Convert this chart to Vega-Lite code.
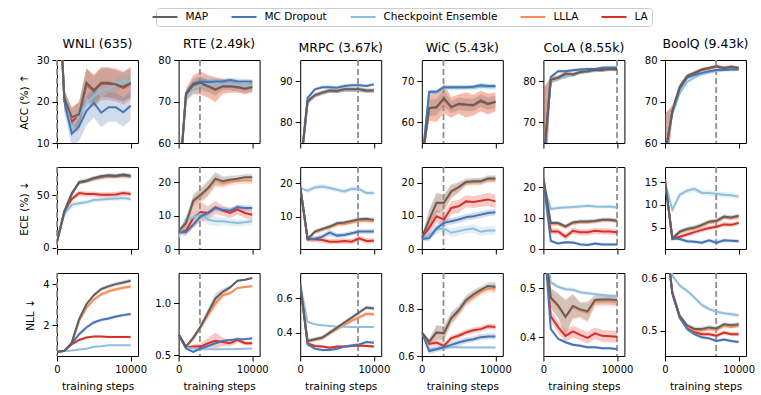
{
"$schema":"https://vega.github.io/schema/vega-lite/v6.json",
"padding":{"left":18,"top":7,"right":0,"bottom":3},
"bounds":"flush",
"columns":6,
"spacing":{"row":24,"column":40.6},
"config":{
"font":"DejaVu Sans",
"view":{"stroke":"black","strokeWidth":1},
"range":{"category":["#606060","#4575b4","#91bfdb","#fc8d59","#d73027"]},
"axis":{"grid":false,"domain":false,"tickColor":"black","tickSize":5,"tickWidth":1,"labelFontSize":10,"labelColor":"black","labelPadding":3,"labelFlush":false,"labelOverlap":false,"titleFontSize":10.5,"titleFontWeight":"normal","titleColor":"black","titlePadding":7},
"title":{"fontSize":12.5,"fontWeight":"normal","color":"black","offset":5},
"line":{"strokeWidth":2},
"errorband":{"band":{"fillOpacity":0.25,"opacity":1}}
},
"datasets":{
"r":[{"d":"W","x":0},{"d":"R","x":2900},{"d":"M","x":7850},{"d":"I","x":2950},{"d":"C","x":10000},{"d":"B","x":6950}],
"p":[
{"p":"WA","m":"e","x":0,"y":56,"e":0},{"p":"WA","m":"e","x":1000,"y":20.3,"e":2.5},{"p":"WA","m":"e","x":2000,"y":15.2,"e":3},{"p":"WA","m":"e","x":3000,"y":16.5,"e":3.5},{"p":"WA","m":"e","x":4000,"y":24.0,"e":4},{"p":"WA","m":"e","x":5000,"y":22.5,"e":4},{"p":"WA","m":"e","x":6000,"y":24.3,"e":4},{"p":"WA","m":"e","x":7000,"y":24.3,"e":4},{"p":"WA","m":"e","x":8000,"y":24.0,"e":4},{"p":"WA","m":"e","x":9000,"y":23.3,"e":4},{"p":"WA","m":"e","x":10000,"y":24.3,"e":4},
{"p":"WA","m":"d","x":0,"y":56,"e":0},{"p":"WA","m":"d","x":1000,"y":20.6,"e":2},{"p":"WA","m":"d","x":2000,"y":16.0,"e":2.5},{"p":"WA","m":"d","x":3000,"y":16.8,"e":3},{"p":"WA","m":"d","x":4000,"y":24.3,"e":3.5},{"p":"WA","m":"d","x":5000,"y":22.7,"e":3.5},{"p":"WA","m":"d","x":6000,"y":24.5,"e":3.5},{"p":"WA","m":"d","x":7000,"y":24.5,"e":3.5},{"p":"WA","m":"d","x":8000,"y":24.1,"e":3.5},{"p":"WA","m":"d","x":9000,"y":23.5,"e":3.5},{"p":"WA","m":"d","x":10000,"y":24.5,"e":3.5},
{"p":"WA","m":"c","x":0,"y":56,"e":0},{"p":"WA","m":"c","x":1000,"y":20.5,"e":2},{"p":"WA","m":"c","x":2000,"y":13.5,"e":2},{"p":"WA","m":"c","x":3000,"y":16.5,"e":2},{"p":"WA","m":"c","x":4000,"y":19.5,"e":1.5},{"p":"WA","m":"c","x":5000,"y":21.3,"e":1.5},{"p":"WA","m":"c","x":6000,"y":22.7,"e":1.5},{"p":"WA","m":"c","x":7000,"y":23.1,"e":1.5},{"p":"WA","m":"c","x":8000,"y":24.0,"e":1.5},{"p":"WA","m":"c","x":9000,"y":25.0,"e":1.5},{"p":"WA","m":"c","x":10000,"y":24.7,"e":1.5},
{"p":"WA","m":"b","x":0,"y":56,"e":0},{"p":"WA","m":"b","x":1000,"y":20.0,"e":2.5},{"p":"WA","m":"b","x":2000,"y":12.2,"e":3},{"p":"WA","m":"b","x":3000,"y":14.0,"e":3.5},{"p":"WA","m":"b","x":4000,"y":17.7,"e":3.5},{"p":"WA","m":"b","x":5000,"y":19.7,"e":3.5},{"p":"WA","m":"b","x":6000,"y":17.3,"e":3.5},{"p":"WA","m":"b","x":7000,"y":18.6,"e":3.5},{"p":"WA","m":"b","x":8000,"y":18.6,"e":3.5},{"p":"WA","m":"b","x":9000,"y":17.4,"e":3.5},{"p":"WA","m":"b","x":10000,"y":19.0,"e":3.5},
{"p":"WA","m":"a","x":0,"y":56,"e":0},{"p":"WA","m":"a","x":1000,"y":20.8,"e":2},{"p":"WA","m":"a","x":2000,"y":16.2,"e":2.5},{"p":"WA","m":"a","x":3000,"y":16.9,"e":3},{"p":"WA","m":"a","x":4000,"y":24.5,"e":3.5},{"p":"WA","m":"a","x":5000,"y":22.7,"e":3.5},{"p":"WA","m":"a","x":6000,"y":24.5,"e":3.5},{"p":"WA","m":"a","x":7000,"y":24.5,"e":3.5},{"p":"WA","m":"a","x":8000,"y":24.1,"e":3.5},{"p":"WA","m":"a","x":9000,"y":23.5,"e":3.5},{"p":"WA","m":"a","x":10000,"y":24.5,"e":3.5},

{"p":"RA","m":"e","x":0,"y":48,"e":0},{"p":"RA","m":"e","x":1000,"y":71.6,"e":1.5},{"p":"RA","m":"e","x":2000,"y":74.0,"e":2.2},{"p":"RA","m":"e","x":3000,"y":74.4,"e":2.8},{"p":"RA","m":"e","x":4000,"y":73.6,"e":2.7},{"p":"RA","m":"e","x":5000,"y":72.8,"e":3},{"p":"RA","m":"e","x":6000,"y":73.6,"e":1.8},{"p":"RA","m":"e","x":7000,"y":73.6,"e":1.5},{"p":"RA","m":"e","x":8000,"y":73.4,"e":1.3},{"p":"RA","m":"e","x":9000,"y":73.0,"e":1.3},{"p":"RA","m":"e","x":10000,"y":73.4,"e":1.3},
{"p":"RA","m":"d","x":0,"y":48,"e":0},{"p":"RA","m":"d","x":1000,"y":71.7,"e":1.5},{"p":"RA","m":"d","x":2000,"y":74.1,"e":2.2},{"p":"RA","m":"d","x":3000,"y":74.5,"e":2.8},{"p":"RA","m":"d","x":4000,"y":73.7,"e":2.7},{"p":"RA","m":"d","x":5000,"y":72.9,"e":3},{"p":"RA","m":"d","x":6000,"y":73.7,"e":1.8},{"p":"RA","m":"d","x":7000,"y":73.7,"e":1.5},{"p":"RA","m":"d","x":8000,"y":73.5,"e":1.3},{"p":"RA","m":"d","x":9000,"y":73.1,"e":1.3},{"p":"RA","m":"d","x":10000,"y":73.5,"e":1.3},
{"p":"RA","m":"c","x":0,"y":48,"e":0},{"p":"RA","m":"c","x":1000,"y":71,"e":1},{"p":"RA","m":"c","x":2000,"y":73,"e":1.5},{"p":"RA","m":"c","x":3000,"y":74.2,"e":1.8},{"p":"RA","m":"c","x":4000,"y":74.3,"e":1.8},{"p":"RA","m":"c","x":5000,"y":74.3,"e":1.5},{"p":"RA","m":"c","x":6000,"y":74,"e":1},{"p":"RA","m":"c","x":7000,"y":74.2,"e":0.8},{"p":"RA","m":"c","x":8000,"y":74,"e":0.8},{"p":"RA","m":"c","x":9000,"y":73.8,"e":0.8},{"p":"RA","m":"c","x":10000,"y":73.8,"e":0.8},
{"p":"RA","m":"b","x":0,"y":48,"e":0},{"p":"RA","m":"b","x":1000,"y":72,"e":0.6},{"p":"RA","m":"b","x":2000,"y":74.3,"e":0.6},{"p":"RA","m":"b","x":3000,"y":74.8,"e":0.6},{"p":"RA","m":"b","x":4000,"y":74.7,"e":0.6},{"p":"RA","m":"b","x":5000,"y":74.8,"e":0.6},{"p":"RA","m":"b","x":6000,"y":74.9,"e":0.6},{"p":"RA","m":"b","x":7000,"y":75.2,"e":0.6},{"p":"RA","m":"b","x":8000,"y":74.9,"e":0.6},{"p":"RA","m":"b","x":9000,"y":74.8,"e":0.6},{"p":"RA","m":"b","x":10000,"y":74.8,"e":0.6},
{"p":"RA","m":"a","x":0,"y":48,"e":0},{"p":"RA","m":"a","x":1000,"y":71.7,"e":1},{"p":"RA","m":"a","x":2000,"y":74.1,"e":1.5},{"p":"RA","m":"a","x":3000,"y":74.5,"e":1.5},{"p":"RA","m":"a","x":4000,"y":73.7,"e":1.5},{"p":"RA","m":"a","x":5000,"y":72.9,"e":1.5},{"p":"RA","m":"a","x":6000,"y":73.7,"e":1},{"p":"RA","m":"a","x":7000,"y":73.7,"e":1},{"p":"RA","m":"a","x":8000,"y":73.5,"e":1},{"p":"RA","m":"a","x":9000,"y":73.1,"e":1},{"p":"RA","m":"a","x":10000,"y":73.5,"e":1},

{"p":"MA","m":"e","x":0,"y":68.4,"e":0},{"p":"MA","m":"e","x":1000,"y":84.8,"e":0.5},{"p":"MA","m":"e","x":2000,"y":86.5,"e":0.5},{"p":"MA","m":"e","x":3000,"y":87.1,"e":0.5},{"p":"MA","m":"e","x":4000,"y":87.6,"e":0.5},{"p":"MA","m":"e","x":5000,"y":87.5,"e":0.5},{"p":"MA","m":"e","x":6000,"y":87.9,"e":0.5},{"p":"MA","m":"e","x":7000,"y":87.9,"e":0.5},{"p":"MA","m":"e","x":8000,"y":87.9,"e":0.5},{"p":"MA","m":"e","x":9000,"y":87.6,"e":0.5},{"p":"MA","m":"e","x":10000,"y":87.6,"e":0.5},
{"p":"MA","m":"d","x":0,"y":68.4,"e":0},{"p":"MA","m":"d","x":1000,"y":85.0,"e":0.5},{"p":"MA","m":"d","x":2000,"y":86.6,"e":0.5},{"p":"MA","m":"d","x":3000,"y":87.2,"e":0.5},{"p":"MA","m":"d","x":4000,"y":87.7,"e":0.5},{"p":"MA","m":"d","x":5000,"y":87.6,"e":0.5},{"p":"MA","m":"d","x":6000,"y":88,"e":0.5},{"p":"MA","m":"d","x":7000,"y":88,"e":0.5},{"p":"MA","m":"d","x":8000,"y":88,"e":0.5},{"p":"MA","m":"d","x":9000,"y":87.7,"e":0.5},{"p":"MA","m":"d","x":10000,"y":87.7,"e":0.5},
{"p":"MA","m":"c","x":0,"y":68.4,"e":0},{"p":"MA","m":"c","x":1000,"y":85,"e":0.4},{"p":"MA","m":"c","x":2000,"y":86.5,"e":0.4},{"p":"MA","m":"c","x":3000,"y":87,"e":0.4},{"p":"MA","m":"c","x":4000,"y":87.5,"e":0.4},{"p":"MA","m":"c","x":5000,"y":87.5,"e":0.4},{"p":"MA","m":"c","x":6000,"y":87.8,"e":0.4},{"p":"MA","m":"c","x":7000,"y":87.8,"e":0.4},{"p":"MA","m":"c","x":8000,"y":87.8,"e":0.4},{"p":"MA","m":"c","x":9000,"y":87.7,"e":0.4},{"p":"MA","m":"c","x":10000,"y":87.6,"e":0.4},
{"p":"MA","m":"b","x":0,"y":68.4,"e":0},{"p":"MA","m":"b","x":1000,"y":85.9,"e":0.4},{"p":"MA","m":"b","x":2000,"y":88,"e":0.4},{"p":"MA","m":"b","x":3000,"y":88.5,"e":0.4},{"p":"MA","m":"b","x":4000,"y":88.5,"e":0.4},{"p":"MA","m":"b","x":5000,"y":88.4,"e":0.4},{"p":"MA","m":"b","x":6000,"y":88.8,"e":0.4},{"p":"MA","m":"b","x":7000,"y":89,"e":0.4},{"p":"MA","m":"b","x":8000,"y":89,"e":0.4},{"p":"MA","m":"b","x":9000,"y":88.8,"e":0.4},{"p":"MA","m":"b","x":10000,"y":89.2,"e":0.4},
{"p":"MA","m":"a","x":0,"y":68.4,"e":0},{"p":"MA","m":"a","x":1000,"y":85.1,"e":0.5},{"p":"MA","m":"a","x":2000,"y":86.6,"e":0.5},{"p":"MA","m":"a","x":3000,"y":87.2,"e":0.5},{"p":"MA","m":"a","x":4000,"y":87.7,"e":0.5},{"p":"MA","m":"a","x":5000,"y":87.6,"e":0.5},{"p":"MA","m":"a","x":6000,"y":88,"e":0.5},{"p":"MA","m":"a","x":7000,"y":88,"e":0.5},{"p":"MA","m":"a","x":8000,"y":88,"e":0.5},{"p":"MA","m":"a","x":9000,"y":87.7,"e":0.5},{"p":"MA","m":"a","x":10000,"y":87.7,"e":0.5},

{"p":"IA","m":"e","x":0,"y":50,"e":0},{"p":"IA","m":"e","x":1000,"y":63.4,"e":3},{"p":"IA","m":"e","x":2000,"y":63.6,"e":3.5},{"p":"IA","m":"e","x":3000,"y":65.7,"e":3.5},{"p":"IA","m":"e","x":4000,"y":63.6,"e":2.5},{"p":"IA","m":"e","x":5000,"y":64.4,"e":2.3},{"p":"IA","m":"e","x":6000,"y":64.2,"e":3},{"p":"IA","m":"e","x":7000,"y":64.1,"e":2.5},{"p":"IA","m":"e","x":8000,"y":65.1,"e":2.5},{"p":"IA","m":"e","x":9000,"y":64.4,"e":2.5},{"p":"IA","m":"e","x":10000,"y":64.9,"e":2.3},
{"p":"IA","m":"d","x":0,"y":50,"e":0},{"p":"IA","m":"d","x":1000,"y":63.5,"e":3},{"p":"IA","m":"d","x":2000,"y":63.7,"e":3.5},{"p":"IA","m":"d","x":3000,"y":65.9,"e":3.5},{"p":"IA","m":"d","x":4000,"y":63.7,"e":2.5},{"p":"IA","m":"d","x":5000,"y":64.5,"e":2.3},{"p":"IA","m":"d","x":6000,"y":64.3,"e":3},{"p":"IA","m":"d","x":7000,"y":64.2,"e":2.5},{"p":"IA","m":"d","x":8000,"y":65.3,"e":2.5},{"p":"IA","m":"d","x":9000,"y":64.5,"e":2.5},{"p":"IA","m":"d","x":10000,"y":65,"e":2.3},
{"p":"IA","m":"c","x":0,"y":50,"e":0},{"p":"IA","m":"c","x":1000,"y":67,"e":0.6},{"p":"IA","m":"c","x":2000,"y":67.2,"e":0.6},{"p":"IA","m":"c","x":3000,"y":68.3,"e":0.6},{"p":"IA","m":"c","x":4000,"y":68.3,"e":0.6},{"p":"IA","m":"c","x":5000,"y":68.4,"e":0.6},{"p":"IA","m":"c","x":6000,"y":68.4,"e":0.6},{"p":"IA","m":"c","x":7000,"y":68.4,"e":0.6},{"p":"IA","m":"c","x":8000,"y":68.6,"e":0.6},{"p":"IA","m":"c","x":9000,"y":68.5,"e":0.6},{"p":"IA","m":"c","x":10000,"y":68.5,"e":0.6},
{"p":"IA","m":"b","x":0,"y":50,"e":0},{"p":"IA","m":"b","x":1000,"y":67.4,"e":0.5},{"p":"IA","m":"b","x":2000,"y":67.4,"e":0.5},{"p":"IA","m":"b","x":3000,"y":68.5,"e":0.5},{"p":"IA","m":"b","x":4000,"y":68.5,"e":0.5},{"p":"IA","m":"b","x":5000,"y":68.5,"e":0.5},{"p":"IA","m":"b","x":6000,"y":68.5,"e":0.5},{"p":"IA","m":"b","x":7000,"y":68.6,"e":0.5},{"p":"IA","m":"b","x":8000,"y":69,"e":0.5},{"p":"IA","m":"b","x":9000,"y":68.8,"e":0.5},{"p":"IA","m":"b","x":10000,"y":68.8,"e":0.5},
{"p":"IA","m":"a","x":0,"y":50,"e":0},{"p":"IA","m":"a","x":1000,"y":63.5,"e":2},{"p":"IA","m":"a","x":2000,"y":63.7,"e":2},{"p":"IA","m":"a","x":3000,"y":65.9,"e":2},{"p":"IA","m":"a","x":4000,"y":63.7,"e":1.5},{"p":"IA","m":"a","x":5000,"y":64.5,"e":1.5},{"p":"IA","m":"a","x":6000,"y":64.3,"e":1.5},{"p":"IA","m":"a","x":7000,"y":64.2,"e":1.5},{"p":"IA","m":"a","x":8000,"y":65.3,"e":1.5},{"p":"IA","m":"a","x":9000,"y":64.5,"e":1.5},{"p":"IA","m":"a","x":10000,"y":65,"e":1.5},

{"p":"CA","m":"e","x":0,"y":60,"e":18},{"p":"CA","m":"e","x":1000,"y":80.2,"e":0.8},{"p":"CA","m":"e","x":2000,"y":80.7,"e":0.7},{"p":"CA","m":"e","x":3000,"y":81.7,"e":0.6},{"p":"CA","m":"e","x":4000,"y":81.5,"e":0.5},{"p":"CA","m":"e","x":5000,"y":82.1,"e":0.4},{"p":"CA","m":"e","x":6000,"y":82.3,"e":0.4},{"p":"CA","m":"e","x":7000,"y":82.6,"e":0.4},{"p":"CA","m":"e","x":8000,"y":82.6,"e":0.4},{"p":"CA","m":"e","x":9000,"y":82.8,"e":0.4},{"p":"CA","m":"e","x":10000,"y":82.8,"e":0.4},
{"p":"CA","m":"d","x":0,"y":60,"e":18},{"p":"CA","m":"d","x":1000,"y":80.3,"e":0.8},{"p":"CA","m":"d","x":2000,"y":80.8,"e":0.7},{"p":"CA","m":"d","x":3000,"y":81.8,"e":0.6},{"p":"CA","m":"d","x":4000,"y":81.6,"e":0.5},{"p":"CA","m":"d","x":5000,"y":82.2,"e":0.4},{"p":"CA","m":"d","x":6000,"y":82.4,"e":0.4},{"p":"CA","m":"d","x":7000,"y":82.7,"e":0.4},{"p":"CA","m":"d","x":8000,"y":82.7,"e":0.4},{"p":"CA","m":"d","x":9000,"y":82.9,"e":0.4},{"p":"CA","m":"d","x":10000,"y":82.9,"e":0.4},
{"p":"CA","m":"c","x":0,"y":60,"e":0},{"p":"CA","m":"c","x":1000,"y":80,"e":0.4},{"p":"CA","m":"c","x":2000,"y":80.5,"e":0.4},{"p":"CA","m":"c","x":3000,"y":81,"e":0.4},{"p":"CA","m":"c","x":4000,"y":81.5,"e":0.4},{"p":"CA","m":"c","x":5000,"y":82,"e":0.4},{"p":"CA","m":"c","x":6000,"y":82.3,"e":0.4},{"p":"CA","m":"c","x":7000,"y":82.5,"e":0.4},{"p":"CA","m":"c","x":8000,"y":82.7,"e":0.4},{"p":"CA","m":"c","x":9000,"y":82.8,"e":0.4},{"p":"CA","m":"c","x":10000,"y":83,"e":0.4},
{"p":"CA","m":"b","x":0,"y":60,"e":0},{"p":"CA","m":"b","x":1000,"y":81,"e":0.4},{"p":"CA","m":"b","x":2000,"y":82.4,"e":0.4},{"p":"CA","m":"b","x":3000,"y":82.4,"e":0.4},{"p":"CA","m":"b","x":4000,"y":82.6,"e":0.4},{"p":"CA","m":"b","x":5000,"y":82.8,"e":0.4},{"p":"CA","m":"b","x":6000,"y":82.9,"e":0.4},{"p":"CA","m":"b","x":7000,"y":82.9,"e":0.4},{"p":"CA","m":"b","x":8000,"y":83.2,"e":0.4},{"p":"CA","m":"b","x":9000,"y":83.3,"e":0.4},{"p":"CA","m":"b","x":10000,"y":83.3,"e":0.4},
{"p":"CA","m":"a","x":0,"y":60,"e":18},{"p":"CA","m":"a","x":1000,"y":80.3,"e":0.6},{"p":"CA","m":"a","x":2000,"y":80.8,"e":0.5},{"p":"CA","m":"a","x":3000,"y":81.8,"e":0.4},{"p":"CA","m":"a","x":4000,"y":81.6,"e":0.4},{"p":"CA","m":"a","x":5000,"y":82.2,"e":0.4},{"p":"CA","m":"a","x":6000,"y":82.4,"e":0.4},{"p":"CA","m":"a","x":7000,"y":82.7,"e":0.4},{"p":"CA","m":"a","x":8000,"y":82.7,"e":0.4},{"p":"CA","m":"a","x":9000,"y":82.9,"e":0.4},{"p":"CA","m":"a","x":10000,"y":82.9,"e":0.4},

{"p":"BA","m":"e","x":0,"y":57,"e":10},{"p":"BA","m":"e","x":1000,"y":67.6,"e":1.5},{"p":"BA","m":"e","x":2000,"y":73.4,"e":0.8},{"p":"BA","m":"e","x":3000,"y":76.0,"e":0.6},{"p":"BA","m":"e","x":4000,"y":76.8,"e":0.5},{"p":"BA","m":"e","x":5000,"y":77.6,"e":0.4},{"p":"BA","m":"e","x":6000,"y":78.0,"e":0.4},{"p":"BA","m":"e","x":7000,"y":78.4,"e":0.4},{"p":"BA","m":"e","x":8000,"y":78.0,"e":0.4},{"p":"BA","m":"e","x":9000,"y":78.3,"e":0.4},{"p":"BA","m":"e","x":10000,"y":78.0,"e":0.4},
{"p":"BA","m":"d","x":0,"y":57,"e":10},{"p":"BA","m":"d","x":1000,"y":67.7,"e":1.5},{"p":"BA","m":"d","x":2000,"y":73.5,"e":0.8},{"p":"BA","m":"d","x":3000,"y":76.1,"e":0.6},{"p":"BA","m":"d","x":4000,"y":76.9,"e":0.5},{"p":"BA","m":"d","x":5000,"y":77.7,"e":0.4},{"p":"BA","m":"d","x":6000,"y":78.1,"e":0.4},{"p":"BA","m":"d","x":7000,"y":78.5,"e":0.4},{"p":"BA","m":"d","x":8000,"y":78.1,"e":0.4},{"p":"BA","m":"d","x":9000,"y":78.4,"e":0.4},{"p":"BA","m":"d","x":10000,"y":78.1,"e":0.4},
{"p":"BA","m":"c","x":0,"y":57,"e":0},{"p":"BA","m":"c","x":1000,"y":67,"e":0.6},{"p":"BA","m":"c","x":2000,"y":72,"e":0.5},{"p":"BA","m":"c","x":3000,"y":74.7,"e":0.4},{"p":"BA","m":"c","x":4000,"y":75.8,"e":0.4},{"p":"BA","m":"c","x":5000,"y":76.6,"e":0.4},{"p":"BA","m":"c","x":6000,"y":77,"e":0.4},{"p":"BA","m":"c","x":7000,"y":77.4,"e":0.4},{"p":"BA","m":"c","x":8000,"y":77.6,"e":0.4},{"p":"BA","m":"c","x":9000,"y":77.7,"e":0.4},{"p":"BA","m":"c","x":10000,"y":77.8,"e":0.4},
{"p":"BA","m":"b","x":0,"y":57,"e":0},{"p":"BA","m":"b","x":1000,"y":67.5,"e":0.5},{"p":"BA","m":"b","x":2000,"y":73,"e":0.4},{"p":"BA","m":"b","x":3000,"y":75.7,"e":0.4},{"p":"BA","m":"b","x":4000,"y":76.4,"e":0.4},{"p":"BA","m":"b","x":5000,"y":76.9,"e":0.4},{"p":"BA","m":"b","x":6000,"y":77.3,"e":0.4},{"p":"BA","m":"b","x":7000,"y":77.6,"e":0.4},{"p":"BA","m":"b","x":8000,"y":77.6,"e":0.4},{"p":"BA","m":"b","x":9000,"y":77.7,"e":0.4},{"p":"BA","m":"b","x":10000,"y":77.7,"e":0.4},
{"p":"BA","m":"a","x":0,"y":57,"e":10},{"p":"BA","m":"a","x":1000,"y":67.7,"e":1},{"p":"BA","m":"a","x":2000,"y":73.5,"e":0.6},{"p":"BA","m":"a","x":3000,"y":76.1,"e":0.5},{"p":"BA","m":"a","x":4000,"y":76.9,"e":0.4},{"p":"BA","m":"a","x":5000,"y":77.7,"e":0.4},{"p":"BA","m":"a","x":6000,"y":78.1,"e":0.4},{"p":"BA","m":"a","x":7000,"y":78.5,"e":0.4},{"p":"BA","m":"a","x":8000,"y":78.1,"e":0.4},{"p":"BA","m":"a","x":9000,"y":78.4,"e":0.4},{"p":"BA","m":"a","x":10000,"y":78.1,"e":0.4},

{"p":"WE","m":"e","x":0,"y":5.8,"e":0},{"p":"WE","m":"e","x":1000,"y":34.5,"e":2},{"p":"WE","m":"e","x":2000,"y":46.5,"e":2.5},{"p":"WE","m":"e","x":3000,"y":52.2,"e":2.5},{"p":"WE","m":"e","x":4000,"y":51.3,"e":2.5},{"p":"WE","m":"e","x":5000,"y":51.3,"e":2.5},{"p":"WE","m":"e","x":6000,"y":50.6,"e":2.5},{"p":"WE","m":"e","x":7000,"y":50.6,"e":2.5},{"p":"WE","m":"e","x":8000,"y":50.8,"e":2.5},{"p":"WE","m":"e","x":9000,"y":52.2,"e":2.5},{"p":"WE","m":"e","x":10000,"y":51.3,"e":2.5},
{"p":"WE","m":"d","x":0,"y":5.8,"e":0},{"p":"WE","m":"d","x":1000,"y":34,"e":1.5},{"p":"WE","m":"d","x":2000,"y":51,"e":2},{"p":"WE","m":"d","x":3000,"y":62,"e":2},{"p":"WE","m":"d","x":4000,"y":63.5,"e":2},{"p":"WE","m":"d","x":5000,"y":65.5,"e":2},{"p":"WE","m":"d","x":6000,"y":67,"e":2},{"p":"WE","m":"d","x":7000,"y":67.8,"e":2},{"p":"WE","m":"d","x":8000,"y":67.8,"e":2},{"p":"WE","m":"d","x":9000,"y":68.5,"e":2},{"p":"WE","m":"d","x":10000,"y":67.8,"e":2},
{"p":"WE","m":"c","x":0,"y":5.8,"e":0},{"p":"WE","m":"c","x":1000,"y":32,"e":2},{"p":"WE","m":"c","x":2000,"y":41,"e":3},{"p":"WE","m":"c","x":3000,"y":42.5,"e":2.5},{"p":"WE","m":"c","x":4000,"y":43.5,"e":2},{"p":"WE","m":"c","x":5000,"y":45.5,"e":2},{"p":"WE","m":"c","x":6000,"y":46,"e":2},{"p":"WE","m":"c","x":7000,"y":46.5,"e":2},{"p":"WE","m":"c","x":8000,"y":47,"e":2},{"p":"WE","m":"c","x":9000,"y":47.5,"e":2},{"p":"WE","m":"c","x":10000,"y":46.5,"e":2},
{"p":"WE","m":"b","x":0,"y":5.8,"e":0},{"p":"WE","m":"b","x":1000,"y":35,"e":1.5},{"p":"WE","m":"b","x":2000,"y":52,"e":1.5},{"p":"WE","m":"b","x":3000,"y":62.3,"e":1.5},{"p":"WE","m":"b","x":4000,"y":63.8,"e":1.5},{"p":"WE","m":"b","x":5000,"y":66.2,"e":1.5},{"p":"WE","m":"b","x":6000,"y":67.8,"e":1.5},{"p":"WE","m":"b","x":7000,"y":68.7,"e":1.5},{"p":"WE","m":"b","x":8000,"y":68.4,"e":1.5},{"p":"WE","m":"b","x":9000,"y":69.4,"e":1.5},{"p":"WE","m":"b","x":10000,"y":68.4,"e":1.5},
{"p":"WE","m":"a","x":0,"y":5.8,"e":0},{"p":"WE","m":"a","x":1000,"y":34,"e":1.5},{"p":"WE","m":"a","x":2000,"y":51.3,"e":2},{"p":"WE","m":"a","x":3000,"y":62.8,"e":2},{"p":"WE","m":"a","x":4000,"y":64.1,"e":2},{"p":"WE","m":"a","x":5000,"y":66.7,"e":2},{"p":"WE","m":"a","x":6000,"y":68.3,"e":2},{"p":"WE","m":"a","x":7000,"y":69.2,"e":2},{"p":"WE","m":"a","x":8000,"y":68.9,"e":2},{"p":"WE","m":"a","x":9000,"y":69.9,"e":2},{"p":"WE","m":"a","x":10000,"y":68.9,"e":2},

{"p":"RE","m":"e","x":0,"y":5,"e":0.5},{"p":"RE","m":"e","x":1000,"y":5.5,"e":1.5},{"p":"RE","m":"e","x":2000,"y":9.3,"e":3},{"p":"RE","m":"e","x":3000,"y":11.1,"e":3},{"p":"RE","m":"e","x":4000,"y":10.8,"e":2},{"p":"RE","m":"e","x":5000,"y":12.5,"e":2},{"p":"RE","m":"e","x":6000,"y":11.5,"e":1.5},{"p":"RE","m":"e","x":7000,"y":10.8,"e":1.5},{"p":"RE","m":"e","x":8000,"y":11.8,"e":1.5},{"p":"RE","m":"e","x":9000,"y":10.8,"e":1.5},{"p":"RE","m":"e","x":10000,"y":10.3,"e":1.5},
{"p":"RE","m":"d","x":0,"y":5.3,"e":0.5},{"p":"RE","m":"d","x":1000,"y":7.5,"e":1.5},{"p":"RE","m":"d","x":2000,"y":14,"e":2},{"p":"RE","m":"d","x":3000,"y":15.8,"e":2},{"p":"RE","m":"d","x":4000,"y":17.8,"e":2.2},{"p":"RE","m":"d","x":5000,"y":20.5,"e":2},{"p":"RE","m":"d","x":6000,"y":19.7,"e":1.5},{"p":"RE","m":"d","x":7000,"y":20.2,"e":1.2},{"p":"RE","m":"d","x":8000,"y":20.4,"e":1},{"p":"RE","m":"d","x":9000,"y":20.6,"e":1},{"p":"RE","m":"d","x":10000,"y":20.5,"e":1},
{"p":"RE","m":"c","x":0,"y":3.5,"e":0.5},{"p":"RE","m":"c","x":1000,"y":8.8,"e":1.5},{"p":"RE","m":"c","x":2000,"y":9.5,"e":1.5},{"p":"RE","m":"c","x":3000,"y":10.5,"e":1.5},{"p":"RE","m":"c","x":4000,"y":8.8,"e":1.5},{"p":"RE","m":"c","x":5000,"y":8.3,"e":1.5},{"p":"RE","m":"c","x":6000,"y":8.3,"e":1.2},{"p":"RE","m":"c","x":7000,"y":8,"e":1.2},{"p":"RE","m":"c","x":8000,"y":7.8,"e":1},{"p":"RE","m":"c","x":9000,"y":8,"e":1},{"p":"RE","m":"c","x":10000,"y":8.3,"e":1},
{"p":"RE","m":"b","x":0,"y":5,"e":0.5},{"p":"RE","m":"b","x":1000,"y":5.1,"e":0.8},{"p":"RE","m":"b","x":2000,"y":7.3,"e":0.8},{"p":"RE","m":"b","x":3000,"y":9.8,"e":0.8},{"p":"RE","m":"b","x":4000,"y":10.8,"e":0.8},{"p":"RE","m":"b","x":5000,"y":12.3,"e":0.8},{"p":"RE","m":"b","x":6000,"y":11.8,"e":0.8},{"p":"RE","m":"b","x":7000,"y":11.5,"e":0.8},{"p":"RE","m":"b","x":8000,"y":12.5,"e":0.8},{"p":"RE","m":"b","x":9000,"y":12.3,"e":0.8},{"p":"RE","m":"b","x":10000,"y":12.3,"e":0.8},
{"p":"RE","m":"a","x":0,"y":5.3,"e":0.5},{"p":"RE","m":"a","x":1000,"y":7.8,"e":1.5},{"p":"RE","m":"a","x":2000,"y":14.5,"e":2},{"p":"RE","m":"a","x":3000,"y":16.3,"e":2},{"p":"RE","m":"a","x":4000,"y":18.3,"e":2.2},{"p":"RE","m":"a","x":5000,"y":21.1,"e":2},{"p":"RE","m":"a","x":6000,"y":20.3,"e":1.5},{"p":"RE","m":"a","x":7000,"y":20.8,"e":1.2},{"p":"RE","m":"a","x":8000,"y":21.1,"e":1},{"p":"RE","m":"a","x":9000,"y":21.5,"e":1},{"p":"RE","m":"a","x":10000,"y":21.5,"e":1},

{"p":"ME","m":"e","x":0,"y":19,"e":0},{"p":"ME","m":"e","x":1000,"y":3.2,"e":0.8},{"p":"ME","m":"e","x":2000,"y":3.2,"e":0.8},{"p":"ME","m":"e","x":3000,"y":3,"e":0.8},{"p":"ME","m":"e","x":4000,"y":2.5,"e":0.8},{"p":"ME","m":"e","x":5000,"y":2.5,"e":0.8},{"p":"ME","m":"e","x":6000,"y":2.7,"e":0.8},{"p":"ME","m":"e","x":7000,"y":2.5,"e":0.8},{"p":"ME","m":"e","x":8000,"y":3.5,"e":0.8},{"p":"ME","m":"e","x":9000,"y":2.7,"e":0.8},{"p":"ME","m":"e","x":10000,"y":2.8,"e":0.8},
{"p":"ME","m":"d","x":0,"y":19,"e":0},{"p":"ME","m":"d","x":1000,"y":3.3,"e":0.6},{"p":"ME","m":"d","x":2000,"y":5.3,"e":0.6},{"p":"ME","m":"d","x":3000,"y":6,"e":0.6},{"p":"ME","m":"d","x":4000,"y":6.7,"e":0.6},{"p":"ME","m":"d","x":5000,"y":7.6,"e":0.6},{"p":"ME","m":"d","x":6000,"y":7.8,"e":0.6},{"p":"ME","m":"d","x":7000,"y":8.2,"e":0.6},{"p":"ME","m":"d","x":8000,"y":8.7,"e":0.6},{"p":"ME","m":"d","x":9000,"y":8.8,"e":0.6},{"p":"ME","m":"d","x":10000,"y":8.5,"e":0.6},
{"p":"ME","m":"c","x":0,"y":18.5,"e":0},{"p":"ME","m":"c","x":1000,"y":17.7,"e":0.7},{"p":"ME","m":"c","x":2000,"y":18.7,"e":0.7},{"p":"ME","m":"c","x":3000,"y":19,"e":0.7},{"p":"ME","m":"c","x":4000,"y":18.5,"e":0.7},{"p":"ME","m":"c","x":5000,"y":18,"e":0.7},{"p":"ME","m":"c","x":6000,"y":17.5,"e":0.7},{"p":"ME","m":"c","x":7000,"y":18.3,"e":0.7},{"p":"ME","m":"c","x":8000,"y":18.2,"e":0.7},{"p":"ME","m":"c","x":9000,"y":17,"e":0.7},{"p":"ME","m":"c","x":10000,"y":17,"e":0.7},
{"p":"ME","m":"b","x":0,"y":19,"e":0},{"p":"ME","m":"b","x":1000,"y":3.3,"e":0.7},{"p":"ME","m":"b","x":2000,"y":3.3,"e":0.7},{"p":"ME","m":"b","x":3000,"y":4,"e":0.7},{"p":"ME","m":"b","x":4000,"y":5.2,"e":1},{"p":"ME","m":"b","x":5000,"y":4.3,"e":0.7},{"p":"ME","m":"b","x":6000,"y":4.5,"e":0.7},{"p":"ME","m":"b","x":7000,"y":5,"e":0.7},{"p":"ME","m":"b","x":8000,"y":5.5,"e":0.7},{"p":"ME","m":"b","x":9000,"y":5.5,"e":0.7},{"p":"ME","m":"b","x":10000,"y":5.5,"e":0.7},
{"p":"ME","m":"a","x":0,"y":19,"e":0},{"p":"ME","m":"a","x":1000,"y":3.3,"e":0.6},{"p":"ME","m":"a","x":2000,"y":5.5,"e":0.6},{"p":"ME","m":"a","x":3000,"y":6.3,"e":0.6},{"p":"ME","m":"a","x":4000,"y":7,"e":0.6},{"p":"ME","m":"a","x":5000,"y":8,"e":0.6},{"p":"ME","m":"a","x":6000,"y":8.2,"e":0.6},{"p":"ME","m":"a","x":7000,"y":8.7,"e":0.6},{"p":"ME","m":"a","x":8000,"y":9.2,"e":0.6},{"p":"ME","m":"a","x":9000,"y":9.3,"e":0.6},{"p":"ME","m":"a","x":10000,"y":9,"e":0.6},

{"p":"IE","m":"e","x":0,"y":3.5,"e":0.5},{"p":"IE","m":"e","x":1000,"y":6.4,"e":2},{"p":"IE","m":"e","x":2000,"y":9.9,"e":2},{"p":"IE","m":"e","x":3000,"y":8.9,"e":2},{"p":"IE","m":"e","x":4000,"y":12.4,"e":2},{"p":"IE","m":"e","x":5000,"y":12.9,"e":2},{"p":"IE","m":"e","x":6000,"y":14.4,"e":1.8},{"p":"IE","m":"e","x":7000,"y":14.2,"e":1.8},{"p":"IE","m":"e","x":8000,"y":14.6,"e":1.8},{"p":"IE","m":"e","x":9000,"y":15,"e":2},{"p":"IE","m":"e","x":10000,"y":14.4,"e":2},
{"p":"IE","m":"d","x":0,"y":3.3,"e":0.5},{"p":"IE","m":"d","x":1000,"y":8.7,"e":3},{"p":"IE","m":"d","x":2000,"y":13.7,"e":3},{"p":"IE","m":"d","x":3000,"y":13.8,"e":2.5},{"p":"IE","m":"d","x":4000,"y":17.2,"e":2},{"p":"IE","m":"d","x":5000,"y":18.4,"e":1.5},{"p":"IE","m":"d","x":6000,"y":20,"e":1},{"p":"IE","m":"d","x":7000,"y":20.2,"e":1},{"p":"IE","m":"d","x":8000,"y":20.3,"e":1},{"p":"IE","m":"d","x":9000,"y":21,"e":1},{"p":"IE","m":"d","x":10000,"y":21,"e":1},
{"p":"IE","m":"c","x":0,"y":3,"e":0.5},{"p":"IE","m":"c","x":1000,"y":4.3,"e":1.3},{"p":"IE","m":"c","x":2000,"y":5.9,"e":1.3},{"p":"IE","m":"c","x":3000,"y":6.2,"e":1.3},{"p":"IE","m":"c","x":4000,"y":4.9,"e":1.3},{"p":"IE","m":"c","x":5000,"y":5.4,"e":1.3},{"p":"IE","m":"c","x":6000,"y":5.9,"e":1.3},{"p":"IE","m":"c","x":7000,"y":6.2,"e":1.3},{"p":"IE","m":"c","x":8000,"y":5.2,"e":1.3},{"p":"IE","m":"c","x":9000,"y":5.6,"e":1.3},{"p":"IE","m":"c","x":10000,"y":5.6,"e":1.3},
{"p":"IE","m":"b","x":0,"y":3,"e":0.5},{"p":"IE","m":"b","x":1000,"y":3.3,"e":1},{"p":"IE","m":"b","x":2000,"y":6.2,"e":1},{"p":"IE","m":"b","x":3000,"y":7.9,"e":1},{"p":"IE","m":"b","x":4000,"y":8.4,"e":1},{"p":"IE","m":"b","x":5000,"y":8.9,"e":1},{"p":"IE","m":"b","x":6000,"y":9.6,"e":1},{"p":"IE","m":"b","x":7000,"y":9.9,"e":1},{"p":"IE","m":"b","x":8000,"y":10.4,"e":1},{"p":"IE","m":"b","x":9000,"y":10.9,"e":1},{"p":"IE","m":"b","x":10000,"y":11.1,"e":1},
{"p":"IE","m":"a","x":0,"y":3.3,"e":0.5},{"p":"IE","m":"a","x":1000,"y":8.9,"e":3},{"p":"IE","m":"a","x":2000,"y":14,"e":3},{"p":"IE","m":"a","x":3000,"y":14,"e":2.5},{"p":"IE","m":"a","x":4000,"y":17.5,"e":2},{"p":"IE","m":"a","x":5000,"y":18.7,"e":1.5},{"p":"IE","m":"a","x":6000,"y":20.3,"e":1},{"p":"IE","m":"a","x":7000,"y":20.5,"e":1},{"p":"IE","m":"a","x":8000,"y":20.5,"e":1},{"p":"IE","m":"a","x":9000,"y":21.3,"e":1},{"p":"IE","m":"a","x":10000,"y":21.3,"e":1},

{"p":"CE","m":"e","x":0,"y":23,"e":0},{"p":"CE","m":"e","x":1000,"y":5.7,"e":1},{"p":"CE","m":"e","x":2000,"y":5.7,"e":1},{"p":"CE","m":"e","x":3000,"y":4,"e":1},{"p":"CE","m":"e","x":4000,"y":5.9,"e":1},{"p":"CE","m":"e","x":5000,"y":5.4,"e":1},{"p":"CE","m":"e","x":6000,"y":5.4,"e":1},{"p":"CE","m":"e","x":7000,"y":5.9,"e":1},{"p":"CE","m":"e","x":8000,"y":5.7,"e":1},{"p":"CE","m":"e","x":9000,"y":5.7,"e":1},{"p":"CE","m":"e","x":10000,"y":5.4,"e":1},
{"p":"CE","m":"d","x":0,"y":23,"e":0},{"p":"CE","m":"d","x":1000,"y":8.2,"e":0.7},{"p":"CE","m":"d","x":2000,"y":8.2,"e":0.7},{"p":"CE","m":"d","x":3000,"y":7.1,"e":0.7},{"p":"CE","m":"d","x":4000,"y":8.4,"e":0.7},{"p":"CE","m":"d","x":5000,"y":8.7,"e":0.7},{"p":"CE","m":"d","x":6000,"y":8.7,"e":0.7},{"p":"CE","m":"d","x":7000,"y":8.9,"e":0.7},{"p":"CE","m":"d","x":8000,"y":9.3,"e":0.7},{"p":"CE","m":"d","x":9000,"y":9.3,"e":0.7},{"p":"CE","m":"d","x":10000,"y":9,"e":0.7},
{"p":"CE","m":"c","x":0,"y":21,"e":0},{"p":"CE","m":"c","x":1000,"y":13,"e":0.6},{"p":"CE","m":"c","x":2000,"y":13.3,"e":0.6},{"p":"CE","m":"c","x":3000,"y":13.5,"e":0.6},{"p":"CE","m":"c","x":4000,"y":13.6,"e":0.6},{"p":"CE","m":"c","x":5000,"y":13.8,"e":0.6},{"p":"CE","m":"c","x":6000,"y":14,"e":0.6},{"p":"CE","m":"c","x":7000,"y":13.8,"e":0.6},{"p":"CE","m":"c","x":8000,"y":13.7,"e":0.6},{"p":"CE","m":"c","x":9000,"y":13.8,"e":0.6},{"p":"CE","m":"c","x":10000,"y":13.5,"e":0.6},
{"p":"CE","m":"b","x":0,"y":22,"e":0},{"p":"CE","m":"b","x":1000,"y":2.6,"e":0.5},{"p":"CE","m":"b","x":2000,"y":1.8,"e":0.5},{"p":"CE","m":"b","x":3000,"y":2.2,"e":0.5},{"p":"CE","m":"b","x":4000,"y":2.1,"e":0.5},{"p":"CE","m":"b","x":5000,"y":1.5,"e":0.5},{"p":"CE","m":"b","x":6000,"y":1.3,"e":0.5},{"p":"CE","m":"b","x":7000,"y":1.8,"e":0.5},{"p":"CE","m":"b","x":8000,"y":1.5,"e":0.5},{"p":"CE","m":"b","x":9000,"y":1.5,"e":0.5},{"p":"CE","m":"b","x":10000,"y":1.5,"e":0.5},
{"p":"CE","m":"a","x":0,"y":23,"e":0},{"p":"CE","m":"a","x":1000,"y":8.4,"e":0.7},{"p":"CE","m":"a","x":2000,"y":8.4,"e":0.7},{"p":"CE","m":"a","x":3000,"y":7.3,"e":0.7},{"p":"CE","m":"a","x":4000,"y":8.6,"e":0.7},{"p":"CE","m":"a","x":5000,"y":8.9,"e":0.7},{"p":"CE","m":"a","x":6000,"y":8.9,"e":0.7},{"p":"CE","m":"a","x":7000,"y":9.1,"e":0.7},{"p":"CE","m":"a","x":8000,"y":9.5,"e":0.7},{"p":"CE","m":"a","x":9000,"y":9.5,"e":0.7},{"p":"CE","m":"a","x":10000,"y":9.2,"e":0.7},

{"p":"BE","m":"e","x":0,"y":15.5,"e":0},{"p":"BE","m":"e","x":1000,"y":2.6,"e":0.5},{"p":"BE","m":"e","x":2000,"y":3,"e":0.5},{"p":"BE","m":"e","x":3000,"y":3.5,"e":0.5},{"p":"BE","m":"e","x":4000,"y":4,"e":0.5},{"p":"BE","m":"e","x":5000,"y":4.5,"e":0.5},{"p":"BE","m":"e","x":6000,"y":4.9,"e":0.5},{"p":"BE","m":"e","x":7000,"y":5.2,"e":0.5},{"p":"BE","m":"e","x":8000,"y":5.7,"e":0.5},{"p":"BE","m":"e","x":9000,"y":5.6,"e":0.5},{"p":"BE","m":"e","x":10000,"y":6,"e":0.5},
{"p":"BE","m":"d","x":0,"y":15.5,"e":0},{"p":"BE","m":"d","x":1000,"y":2.6,"e":0.5},{"p":"BE","m":"d","x":2000,"y":4,"e":0.5},{"p":"BE","m":"d","x":3000,"y":4.5,"e":0.5},{"p":"BE","m":"d","x":4000,"y":4.8,"e":0.5},{"p":"BE","m":"d","x":5000,"y":5.4,"e":0.5},{"p":"BE","m":"d","x":6000,"y":6.1,"e":0.5},{"p":"BE","m":"d","x":7000,"y":6.3,"e":0.5},{"p":"BE","m":"d","x":8000,"y":7.2,"e":0.5},{"p":"BE","m":"d","x":9000,"y":7,"e":0.5},{"p":"BE","m":"d","x":10000,"y":7.3,"e":0.5},
{"p":"BE","m":"c","x":0,"y":15,"e":0},{"p":"BE","m":"c","x":1000,"y":8.9,"e":0.6},{"p":"BE","m":"c","x":2000,"y":12.2,"e":0.6},{"p":"BE","m":"c","x":3000,"y":13.1,"e":0.6},{"p":"BE","m":"c","x":4000,"y":13.5,"e":0.6},{"p":"BE","m":"c","x":5000,"y":12.6,"e":0.6},{"p":"BE","m":"c","x":6000,"y":12.6,"e":0.6},{"p":"BE","m":"c","x":7000,"y":12.4,"e":0.6},{"p":"BE","m":"c","x":8000,"y":12.2,"e":0.6},{"p":"BE","m":"c","x":9000,"y":12.1,"e":0.6},{"p":"BE","m":"c","x":10000,"y":11.8,"e":0.6},
{"p":"BE","m":"b","x":0,"y":15,"e":0},{"p":"BE","m":"b","x":1000,"y":2.6,"e":0.4},{"p":"BE","m":"b","x":2000,"y":2.5,"e":0.4},{"p":"BE","m":"b","x":3000,"y":2,"e":0.4},{"p":"BE","m":"b","x":4000,"y":1.9,"e":0.4},{"p":"BE","m":"b","x":5000,"y":1.7,"e":0.4},{"p":"BE","m":"b","x":6000,"y":2.2,"e":0.4},{"p":"BE","m":"b","x":7000,"y":1.7,"e":0.4},{"p":"BE","m":"b","x":8000,"y":2.2,"e":0.4},{"p":"BE","m":"b","x":9000,"y":2.1,"e":0.4},{"p":"BE","m":"b","x":10000,"y":2,"e":0.4},
{"p":"BE","m":"a","x":0,"y":15.5,"e":0},{"p":"BE","m":"a","x":1000,"y":2.6,"e":0.5},{"p":"BE","m":"a","x":2000,"y":4.1,"e":0.5},{"p":"BE","m":"a","x":3000,"y":4.7,"e":0.5},{"p":"BE","m":"a","x":4000,"y":5,"e":0.5},{"p":"BE","m":"a","x":5000,"y":5.6,"e":0.5},{"p":"BE","m":"a","x":6000,"y":6.3,"e":0.5},{"p":"BE","m":"a","x":7000,"y":6.5,"e":0.5},{"p":"BE","m":"a","x":8000,"y":7.4,"e":0.5},{"p":"BE","m":"a","x":9000,"y":7.2,"e":0.5},{"p":"BE","m":"a","x":10000,"y":7.6,"e":0.5},

{"p":"WN","m":"e","x":0,"y":0.7,"e":0},{"p":"WN","m":"e","x":1000,"y":0.75,"e":0.02},{"p":"WN","m":"e","x":2000,"y":1.07,"e":0.04},{"p":"WN","m":"e","x":3000,"y":1.28,"e":0.05},{"p":"WN","m":"e","x":4000,"y":1.4,"e":0.05},{"p":"WN","m":"e","x":5000,"y":1.45,"e":0.05},{"p":"WN","m":"e","x":6000,"y":1.45,"e":0.05},{"p":"WN","m":"e","x":7000,"y":1.43,"e":0.05},{"p":"WN","m":"e","x":8000,"y":1.43,"e":0.05},{"p":"WN","m":"e","x":9000,"y":1.43,"e":0.05},{"p":"WN","m":"e","x":10000,"y":1.43,"e":0.05},
{"p":"WN","m":"d","x":0,"y":0.7,"e":0},{"p":"WN","m":"d","x":1000,"y":0.75,"e":0.02},{"p":"WN","m":"d","x":2000,"y":1.12,"e":0.05},{"p":"WN","m":"d","x":3000,"y":2.2,"e":0.08},{"p":"WN","m":"d","x":4000,"y":2.85,"e":0.1},{"p":"WN","m":"d","x":5000,"y":3.25,"e":0.1},{"p":"WN","m":"d","x":6000,"y":3.5,"e":0.1},{"p":"WN","m":"d","x":7000,"y":3.65,"e":0.1},{"p":"WN","m":"d","x":8000,"y":3.75,"e":0.1},{"p":"WN","m":"d","x":9000,"y":3.82,"e":0.1},{"p":"WN","m":"d","x":10000,"y":3.88,"e":0.1},
{"p":"WN","m":"c","x":0,"y":0.7,"e":0},{"p":"WN","m":"c","x":1000,"y":0.74,"e":0.02},{"p":"WN","m":"c","x":2000,"y":0.77,"e":0.03},{"p":"WN","m":"c","x":3000,"y":0.82,"e":0.03},{"p":"WN","m":"c","x":4000,"y":0.85,"e":0.03},{"p":"WN","m":"c","x":5000,"y":0.95,"e":0.03},{"p":"WN","m":"c","x":6000,"y":0.98,"e":0.03},{"p":"WN","m":"c","x":7000,"y":1.02,"e":0.03},{"p":"WN","m":"c","x":8000,"y":1.02,"e":0.03},{"p":"WN","m":"c","x":9000,"y":1.02,"e":0.03},{"p":"WN","m":"c","x":10000,"y":1.02,"e":0.03},
{"p":"WN","m":"b","x":0,"y":0.7,"e":0},{"p":"WN","m":"b","x":1000,"y":0.75,"e":0.02},{"p":"WN","m":"b","x":2000,"y":1.1,"e":0.05},{"p":"WN","m":"b","x":3000,"y":1.56,"e":0.08},{"p":"WN","m":"b","x":4000,"y":1.89,"e":0.08},{"p":"WN","m":"b","x":5000,"y":2.13,"e":0.08},{"p":"WN","m":"b","x":6000,"y":2.26,"e":0.08},{"p":"WN","m":"b","x":7000,"y":2.33,"e":0.08},{"p":"WN","m":"b","x":8000,"y":2.42,"e":0.08},{"p":"WN","m":"b","x":9000,"y":2.49,"e":0.08},{"p":"WN","m":"b","x":10000,"y":2.54,"e":0.08},
{"p":"WN","m":"a","x":0,"y":0.7,"e":0},{"p":"WN","m":"a","x":1000,"y":0.75,"e":0.02},{"p":"WN","m":"a","x":2000,"y":1.15,"e":0.05},{"p":"WN","m":"a","x":3000,"y":2.29,"e":0.08},{"p":"WN","m":"a","x":4000,"y":3.02,"e":0.1},{"p":"WN","m":"a","x":5000,"y":3.46,"e":0.1},{"p":"WN","m":"a","x":6000,"y":3.76,"e":0.1},{"p":"WN","m":"a","x":7000,"y":3.89,"e":0.1},{"p":"WN","m":"a","x":8000,"y":4.0,"e":0.1},{"p":"WN","m":"a","x":9000,"y":4.08,"e":0.1},{"p":"WN","m":"a","x":10000,"y":4.16,"e":0.1},

{"p":"RN","m":"e","x":0,"y":0.7,"e":0},{"p":"RN","m":"e","x":1000,"y":0.574,"e":0.01},{"p":"RN","m":"e","x":2000,"y":0.584,"e":0.02},{"p":"RN","m":"e","x":3000,"y":0.584,"e":0.03},{"p":"RN","m":"e","x":4000,"y":0.616,"e":0.05},{"p":"RN","m":"e","x":5000,"y":0.639,"e":0.08},{"p":"RN","m":"e","x":6000,"y":0.629,"e":0.04},{"p":"RN","m":"e","x":7000,"y":0.616,"e":0.03},{"p":"RN","m":"e","x":8000,"y":0.648,"e":0.03},{"p":"RN","m":"e","x":9000,"y":0.616,"e":0.02},{"p":"RN","m":"e","x":10000,"y":0.616,"e":0.02},
{"p":"RN","m":"d","x":0,"y":0.703,"e":0},{"p":"RN","m":"d","x":1000,"y":0.58,"e":0.01},{"p":"RN","m":"d","x":2000,"y":0.66,"e":0.02},{"p":"RN","m":"d","x":3000,"y":0.77,"e":0.03},{"p":"RN","m":"d","x":4000,"y":0.89,"e":0.04},{"p":"RN","m":"d","x":5000,"y":1.0,"e":0.05},{"p":"RN","m":"d","x":6000,"y":1.08,"e":0.03},{"p":"RN","m":"d","x":7000,"y":1.1,"e":0.02},{"p":"RN","m":"d","x":8000,"y":1.15,"e":0.01},{"p":"RN","m":"d","x":9000,"y":1.16,"e":0.01},{"p":"RN","m":"d","x":10000,"y":1.165,"e":0.01},
{"p":"RN","m":"c","x":0,"y":0.7,"e":0},{"p":"RN","m":"c","x":1000,"y":0.574,"e":0.005},{"p":"RN","m":"c","x":2000,"y":0.565,"e":0.005},{"p":"RN","m":"c","x":3000,"y":0.558,"e":0.005},{"p":"RN","m":"c","x":4000,"y":0.558,"e":0.005},{"p":"RN","m":"c","x":5000,"y":0.558,"e":0.005},{"p":"RN","m":"c","x":6000,"y":0.558,"e":0.005},{"p":"RN","m":"c","x":7000,"y":0.558,"e":0.005},{"p":"RN","m":"c","x":8000,"y":0.56,"e":0.005},{"p":"RN","m":"c","x":9000,"y":0.562,"e":0.005},{"p":"RN","m":"c","x":10000,"y":0.565,"e":0.005},
{"p":"RN","m":"b","x":0,"y":0.7,"e":0},{"p":"RN","m":"b","x":1000,"y":0.565,"e":0.01},{"p":"RN","m":"b","x":2000,"y":0.532,"e":0.01},{"p":"RN","m":"b","x":3000,"y":0.565,"e":0.01},{"p":"RN","m":"b","x":4000,"y":0.59,"e":0.01},{"p":"RN","m":"b","x":5000,"y":0.616,"e":0.01},{"p":"RN","m":"b","x":6000,"y":0.639,"e":0.01},{"p":"RN","m":"b","x":7000,"y":0.648,"e":0.01},{"p":"RN","m":"b","x":8000,"y":0.655,"e":0.01},{"p":"RN","m":"b","x":9000,"y":0.655,"e":0.01},{"p":"RN","m":"b","x":10000,"y":0.665,"e":0.01},
{"p":"RN","m":"a","x":0,"y":0.703,"e":0},{"p":"RN","m":"a","x":1000,"y":0.584,"e":0.01},{"p":"RN","m":"a","x":2000,"y":0.671,"e":0.02},{"p":"RN","m":"a","x":3000,"y":0.777,"e":0.03},{"p":"RN","m":"a","x":4000,"y":0.913,"e":0.04},{"p":"RN","m":"a","x":5000,"y":1.048,"e":0.05},{"p":"RN","m":"a","x":6000,"y":1.113,"e":0.03},{"p":"RN","m":"a","x":7000,"y":1.155,"e":0.02},{"p":"RN","m":"a","x":8000,"y":1.219,"e":0.01},{"p":"RN","m":"a","x":9000,"y":1.229,"e":0.01},{"p":"RN","m":"a","x":10000,"y":1.245,"e":0.01},

{"p":"MN","m":"e","x":0,"y":0.684,"e":0},{"p":"MN","m":"e","x":1000,"y":0.337,"e":0.008},{"p":"MN","m":"e","x":2000,"y":0.322,"e":0.008},{"p":"MN","m":"e","x":3000,"y":0.318,"e":0.008},{"p":"MN","m":"e","x":4000,"y":0.312,"e":0.008},{"p":"MN","m":"e","x":5000,"y":0.318,"e":0.008},{"p":"MN","m":"e","x":6000,"y":0.318,"e":0.008},{"p":"MN","m":"e","x":7000,"y":0.322,"e":0.008},{"p":"MN","m":"e","x":8000,"y":0.325,"e":0.008},{"p":"MN","m":"e","x":9000,"y":0.322,"e":0.008},{"p":"MN","m":"e","x":10000,"y":0.318,"e":0.008},
{"p":"MN","m":"d","x":0,"y":0.684,"e":0},{"p":"MN","m":"d","x":1000,"y":0.35,"e":0.012},{"p":"MN","m":"d","x":2000,"y":0.358,"e":0.012},{"p":"MN","m":"d","x":3000,"y":0.366,"e":0.012},{"p":"MN","m":"d","x":4000,"y":0.395,"e":0.012},{"p":"MN","m":"d","x":5000,"y":0.42,"e":0.012},{"p":"MN","m":"d","x":6000,"y":0.445,"e":0.012},{"p":"MN","m":"d","x":7000,"y":0.47,"e":0.012},{"p":"MN","m":"d","x":8000,"y":0.49,"e":0.012},{"p":"MN","m":"d","x":9000,"y":0.51,"e":0.012},{"p":"MN","m":"d","x":10000,"y":0.508,"e":0.012},
{"p":"MN","m":"c","x":0,"y":0.684,"e":0},{"p":"MN","m":"c","x":1000,"y":0.463,"e":0.005},{"p":"MN","m":"c","x":2000,"y":0.449,"e":0.005},{"p":"MN","m":"c","x":3000,"y":0.443,"e":0.005},{"p":"MN","m":"c","x":4000,"y":0.439,"e":0.005},{"p":"MN","m":"c","x":5000,"y":0.435,"e":0.005},{"p":"MN","m":"c","x":6000,"y":0.435,"e":0.005},{"p":"MN","m":"c","x":7000,"y":0.433,"e":0.005},{"p":"MN","m":"c","x":8000,"y":0.433,"e":0.005},{"p":"MN","m":"c","x":9000,"y":0.433,"e":0.005},{"p":"MN","m":"c","x":10000,"y":0.433,"e":0.005},
{"p":"MN","m":"b","x":0,"y":0.684,"e":0},{"p":"MN","m":"b","x":1000,"y":0.331,"e":0.008},{"p":"MN","m":"b","x":2000,"y":0.306,"e":0.008},{"p":"MN","m":"b","x":3000,"y":0.298,"e":0.008},{"p":"MN","m":"b","x":4000,"y":0.298,"e":0.008},{"p":"MN","m":"b","x":5000,"y":0.306,"e":0.008},{"p":"MN","m":"b","x":6000,"y":0.318,"e":0.008},{"p":"MN","m":"b","x":7000,"y":0.325,"e":0.008},{"p":"MN","m":"b","x":8000,"y":0.331,"e":0.008},{"p":"MN","m":"b","x":9000,"y":0.345,"e":0.008},{"p":"MN","m":"b","x":10000,"y":0.341,"e":0.008},
{"p":"MN","m":"a","x":0,"y":0.684,"e":0},{"p":"MN","m":"a","x":1000,"y":0.351,"e":0.012},{"p":"MN","m":"a","x":2000,"y":0.361,"e":0.012},{"p":"MN","m":"a","x":3000,"y":0.371,"e":0.012},{"p":"MN","m":"a","x":4000,"y":0.4,"e":0.012},{"p":"MN","m":"a","x":5000,"y":0.429,"e":0.012},{"p":"MN","m":"a","x":6000,"y":0.459,"e":0.012},{"p":"MN","m":"a","x":7000,"y":0.488,"e":0.012},{"p":"MN","m":"a","x":8000,"y":0.518,"e":0.012},{"p":"MN","m":"a","x":9000,"y":0.547,"e":0.012},{"p":"MN","m":"a","x":10000,"y":0.541,"e":0.012},

{"p":"IN","m":"e","x":0,"y":0.7,"e":0},{"p":"IN","m":"e","x":1000,"y":0.651,"e":0.012},{"p":"IN","m":"e","x":2000,"y":0.657,"e":0.012},{"p":"IN","m":"e","x":3000,"y":0.643,"e":0.012},{"p":"IN","m":"e","x":4000,"y":0.676,"e":0.012},{"p":"IN","m":"e","x":5000,"y":0.686,"e":0.012},{"p":"IN","m":"e","x":6000,"y":0.7,"e":0.012},{"p":"IN","m":"e","x":7000,"y":0.709,"e":0.012},{"p":"IN","m":"e","x":8000,"y":0.714,"e":0.012},{"p":"IN","m":"e","x":9000,"y":0.726,"e":0.012},{"p":"IN","m":"e","x":10000,"y":0.723,"e":0.012},
{"p":"IN","m":"d","x":0,"y":0.7,"e":0},{"p":"IN","m":"d","x":1000,"y":0.66,"e":0.01},{"p":"IN","m":"d","x":2000,"y":0.698,"e":0.03},{"p":"IN","m":"d","x":3000,"y":0.695,"e":0.03},{"p":"IN","m":"d","x":4000,"y":0.757,"e":0.025},{"p":"IN","m":"d","x":5000,"y":0.788,"e":0.02},{"p":"IN","m":"d","x":6000,"y":0.83,"e":0.02},{"p":"IN","m":"d","x":7000,"y":0.853,"e":0.02},{"p":"IN","m":"d","x":8000,"y":0.872,"e":0.015},{"p":"IN","m":"d","x":9000,"y":0.885,"e":0.015},{"p":"IN","m":"d","x":10000,"y":0.887,"e":0.02},
{"p":"IN","m":"c","x":0,"y":0.7,"e":0},{"p":"IN","m":"c","x":1000,"y":0.629,"e":0.005},{"p":"IN","m":"c","x":2000,"y":0.633,"e":0.005},{"p":"IN","m":"c","x":3000,"y":0.633,"e":0.005},{"p":"IN","m":"c","x":4000,"y":0.637,"e":0.005},{"p":"IN","m":"c","x":5000,"y":0.637,"e":0.005},{"p":"IN","m":"c","x":6000,"y":0.636,"e":0.005},{"p":"IN","m":"c","x":7000,"y":0.636,"e":0.005},{"p":"IN","m":"c","x":8000,"y":0.636,"e":0.005},{"p":"IN","m":"c","x":9000,"y":0.636,"e":0.005},{"p":"IN","m":"c","x":10000,"y":0.636,"e":0.005},
{"p":"IN","m":"b","x":0,"y":0.7,"e":0},{"p":"IN","m":"b","x":1000,"y":0.621,"e":0.012},{"p":"IN","m":"b","x":2000,"y":0.629,"e":0.012},{"p":"IN","m":"b","x":3000,"y":0.637,"e":0.012},{"p":"IN","m":"b","x":4000,"y":0.647,"e":0.012},{"p":"IN","m":"b","x":5000,"y":0.657,"e":0.012},{"p":"IN","m":"b","x":6000,"y":0.666,"e":0.012},{"p":"IN","m":"b","x":7000,"y":0.671,"e":0.012},{"p":"IN","m":"b","x":8000,"y":0.68,"e":0.012},{"p":"IN","m":"b","x":9000,"y":0.683,"e":0.012},{"p":"IN","m":"b","x":10000,"y":0.683,"e":0.012},
{"p":"IN","m":"a","x":0,"y":0.7,"e":0},{"p":"IN","m":"a","x":1000,"y":0.661,"e":0.01},{"p":"IN","m":"a","x":2000,"y":0.7,"e":0.03},{"p":"IN","m":"a","x":3000,"y":0.697,"e":0.03},{"p":"IN","m":"a","x":4000,"y":0.761,"e":0.025},{"p":"IN","m":"a","x":5000,"y":0.794,"e":0.02},{"p":"IN","m":"a","x":6000,"y":0.837,"e":0.02},{"p":"IN","m":"a","x":7000,"y":0.861,"e":0.02},{"p":"IN","m":"a","x":8000,"y":0.88,"e":0.015},{"p":"IN","m":"a","x":9000,"y":0.897,"e":0.015},{"p":"IN","m":"a","x":10000,"y":0.894,"e":0.02},

{"p":"CN","m":"e","x":0,"y":0.62,"e":0},{"p":"CN","m":"e","x":1000,"y":0.443,"e":0.012},{"p":"CN","m":"e","x":2000,"y":0.421,"e":0.012},{"p":"CN","m":"e","x":3000,"y":0.403,"e":0.012},{"p":"CN","m":"e","x":4000,"y":0.412,"e":0.012},{"p":"CN","m":"e","x":5000,"y":0.405,"e":0.012},{"p":"CN","m":"e","x":6000,"y":0.399,"e":0.012},{"p":"CN","m":"e","x":7000,"y":0.408,"e":0.012},{"p":"CN","m":"e","x":8000,"y":0.403,"e":0.012},{"p":"CN","m":"e","x":9000,"y":0.402,"e":0.012},{"p":"CN","m":"e","x":10000,"y":0.401,"e":0.012},
{"p":"CN","m":"d","x":0,"y":0.62,"e":0},{"p":"CN","m":"d","x":1000,"y":0.478,"e":0.02},{"p":"CN","m":"d","x":2000,"y":0.462,"e":0.025},{"p":"CN","m":"d","x":3000,"y":0.44,"e":0.035},{"p":"CN","m":"d","x":4000,"y":0.461,"e":0.025},{"p":"CN","m":"d","x":5000,"y":0.454,"e":0.015},{"p":"CN","m":"d","x":6000,"y":0.45,"e":0.02},{"p":"CN","m":"d","x":7000,"y":0.472,"e":0.01},{"p":"CN","m":"d","x":8000,"y":0.473,"e":0.01},{"p":"CN","m":"d","x":9000,"y":0.473,"e":0.01},{"p":"CN","m":"d","x":10000,"y":0.472,"e":0.01},
{"p":"CN","m":"c","x":0,"y":0.62,"e":0},{"p":"CN","m":"c","x":1000,"y":0.512,"e":0.004},{"p":"CN","m":"c","x":2000,"y":0.503,"e":0.004},{"p":"CN","m":"c","x":3000,"y":0.498,"e":0.004},{"p":"CN","m":"c","x":4000,"y":0.497,"e":0.004},{"p":"CN","m":"c","x":5000,"y":0.492,"e":0.004},{"p":"CN","m":"c","x":6000,"y":0.49,"e":0.004},{"p":"CN","m":"c","x":7000,"y":0.488,"e":0.004},{"p":"CN","m":"c","x":8000,"y":0.486,"e":0.004},{"p":"CN","m":"c","x":9000,"y":0.484,"e":0.004},{"p":"CN","m":"c","x":10000,"y":0.484,"e":0.004},
{"p":"CN","m":"b","x":0,"y":0.62,"e":0},{"p":"CN","m":"b","x":1000,"y":0.417,"e":0.003},{"p":"CN","m":"b","x":2000,"y":0.397,"e":0.003},{"p":"CN","m":"b","x":3000,"y":0.39,"e":0.003},{"p":"CN","m":"b","x":4000,"y":0.385,"e":0.003},{"p":"CN","m":"b","x":5000,"y":0.383,"e":0.003},{"p":"CN","m":"b","x":6000,"y":0.38,"e":0.003},{"p":"CN","m":"b","x":7000,"y":0.38,"e":0.003},{"p":"CN","m":"b","x":8000,"y":0.378,"e":0.003},{"p":"CN","m":"b","x":9000,"y":0.378,"e":0.003},{"p":"CN","m":"b","x":10000,"y":0.376,"e":0.003},
{"p":"CN","m":"a","x":0,"y":0.62,"e":0},{"p":"CN","m":"a","x":1000,"y":0.481,"e":0.02},{"p":"CN","m":"a","x":2000,"y":0.465,"e":0.025},{"p":"CN","m":"a","x":3000,"y":0.442,"e":0.035},{"p":"CN","m":"a","x":4000,"y":0.464,"e":0.025},{"p":"CN","m":"a","x":5000,"y":0.457,"e":0.015},{"p":"CN","m":"a","x":6000,"y":0.453,"e":0.02},{"p":"CN","m":"a","x":7000,"y":0.476,"e":0.01},{"p":"CN","m":"a","x":8000,"y":0.477,"e":0.01},{"p":"CN","m":"a","x":9000,"y":0.477,"e":0.01},{"p":"CN","m":"a","x":10000,"y":0.476,"e":0.01},

{"p":"BN","m":"e","x":0,"y":0.69,"e":0},{"p":"BN","m":"e","x":1000,"y":0.572,"e":0.004},{"p":"BN","m":"e","x":2000,"y":0.525,"e":0.004},{"p":"BN","m":"e","x":3000,"y":0.506,"e":0.004},{"p":"BN","m":"e","x":4000,"y":0.497,"e":0.004},{"p":"BN","m":"e","x":5000,"y":0.493,"e":0.004},{"p":"BN","m":"e","x":6000,"y":0.493,"e":0.004},{"p":"BN","m":"e","x":7000,"y":0.49,"e":0.004},{"p":"BN","m":"e","x":8000,"y":0.496,"e":0.004},{"p":"BN","m":"e","x":9000,"y":0.493,"e":0.004},{"p":"BN","m":"e","x":10000,"y":0.493,"e":0.004},
{"p":"BN","m":"d","x":0,"y":0.69,"e":0},{"p":"BN","m":"d","x":1000,"y":0.572,"e":0.004},{"p":"BN","m":"d","x":2000,"y":0.527,"e":0.004},{"p":"BN","m":"d","x":3000,"y":0.508,"e":0.004},{"p":"BN","m":"d","x":4000,"y":0.5,"e":0.004},{"p":"BN","m":"d","x":5000,"y":0.5,"e":0.004},{"p":"BN","m":"d","x":6000,"y":0.503,"e":0.004},{"p":"BN","m":"d","x":7000,"y":0.501,"e":0.004},{"p":"BN","m":"d","x":8000,"y":0.509,"e":0.004},{"p":"BN","m":"d","x":9000,"y":0.507,"e":0.004},{"p":"BN","m":"d","x":10000,"y":0.509,"e":0.004},
{"p":"BN","m":"c","x":0,"y":0.69,"e":0},{"p":"BN","m":"c","x":1000,"y":0.605,"e":0.004},{"p":"BN","m":"c","x":2000,"y":0.586,"e":0.004},{"p":"BN","m":"c","x":3000,"y":0.576,"e":0.004},{"p":"BN","m":"c","x":4000,"y":0.563,"e":0.004},{"p":"BN","m":"c","x":5000,"y":0.549,"e":0.004},{"p":"BN","m":"c","x":6000,"y":0.541,"e":0.004},{"p":"BN","m":"c","x":7000,"y":0.536,"e":0.004},{"p":"BN","m":"c","x":8000,"y":0.533,"e":0.004},{"p":"BN","m":"c","x":9000,"y":0.531,"e":0.004},{"p":"BN","m":"c","x":10000,"y":0.529,"e":0.004},
{"p":"BN","m":"b","x":0,"y":0.69,"e":0},{"p":"BN","m":"b","x":1000,"y":0.57,"e":0.003},{"p":"BN","m":"b","x":2000,"y":0.525,"e":0.003},{"p":"BN","m":"b","x":3000,"y":0.503,"e":0.003},{"p":"BN","m":"b","x":4000,"y":0.493,"e":0.003},{"p":"BN","m":"b","x":5000,"y":0.487,"e":0.003},{"p":"BN","m":"b","x":6000,"y":0.485,"e":0.003},{"p":"BN","m":"b","x":7000,"y":0.48,"e":0.003},{"p":"BN","m":"b","x":8000,"y":0.483,"e":0.003},{"p":"BN","m":"b","x":9000,"y":0.48,"e":0.003},{"p":"BN","m":"b","x":10000,"y":0.478,"e":0.003},
{"p":"BN","m":"a","x":0,"y":0.69,"e":0},{"p":"BN","m":"a","x":1000,"y":0.572,"e":0.004},{"p":"BN","m":"a","x":2000,"y":0.528,"e":0.004},{"p":"BN","m":"a","x":3000,"y":0.51,"e":0.004},{"p":"BN","m":"a","x":4000,"y":0.503,"e":0.004},{"p":"BN","m":"a","x":5000,"y":0.503,"e":0.004},{"p":"BN","m":"a","x":6000,"y":0.506,"e":0.004},{"p":"BN","m":"a","x":7000,"y":0.504,"e":0.004},{"p":"BN","m":"a","x":8000,"y":0.512,"e":0.004},{"p":"BN","m":"a","x":9000,"y":0.51,"e":0.004},{"p":"BN","m":"a","x":10000,"y":0.512,"e":0.004}
]},
"concat":[
{"width":81,"height":83,"title":"WNLI (635)","data":{"name":"p"},"transform":[{"filter":"datum.p=='WA'"}],"encoding":{"x":{"field":"x","type":"quantitative","scale":{"domain":[0,11000],"nice":false},"axis":{"values":[0,10000],"labels":false,"title":null}}},"layer":[
{"mark":{"type":"errorband","clip":true},"encoding":{"y":{"field":"y","type":"quantitative","title":"ACC (%) ↑"},"yError":{"field":"e"},"color":{"field":"m","type":"nominal"}}},
{"data":{"name":"r"},"transform":[{"filter":"datum.d=='W'"}],"mark":{"type":"rule","color":"#8f8f8f","strokeDash":[6,3],"strokeWidth":1.8},"encoding":{}},
{"mark":{"type":"line","clip":true},"encoding":{"y":{"field":"y","type":"quantitative","title":"ACC (%) ↑","scale":{"domain":[10,30],"nice":false,"zero":false},"axis":{"values":[10,20,30]}},"color":{"field":"m","type":"nominal","legend":{"title":null,"orient":"none","legendX":99,"legendY":-52,"direction":"horizontal","symbolType":"M-3,0H3","symbolStrokeWidth":2,"symbolSize":69.4,"symbolOpacity":1,"labelFontSize":10.5,"labelOffset":15,"columnPadding":19,"padding":3.5,"strokeColor":"#cccccc","fillColor":"white","cornerRadius":3,"labelExpr":"{'a':'MAP','b':'MC Dropout','c':'Checkpoint Ensemble','d':'LLLA','e':'LA'}[datum.label]"}}}}]},
{"width":81,"height":83,"title":"RTE (2.49k)","data":{"name":"p"},"transform":[{"filter":"datum.p=='RA'"}],"encoding":{"x":{"field":"x","type":"quantitative","scale":{"domain":[0,11000],"nice":false},"axis":{"values":[0,10000],"labels":false,"title":null}}},"layer":[
{"mark":{"type":"errorband","clip":true},"encoding":{"y":{"field":"y","type":"quantitative","title":null},"yError":{"field":"e"},"color":{"field":"m","type":"nominal"}}},
{"data":{"name":"r"},"transform":[{"filter":"datum.d=='R'"}],"mark":{"type":"rule","color":"#8f8f8f","strokeDash":[6,3],"strokeWidth":1.8},"encoding":{}},
{"mark":{"type":"line","clip":true},"encoding":{"y":{"field":"y","type":"quantitative","scale":{"domain":[60,80],"nice":false,"zero":false},"axis":{"values":[60,70,80],"title":null}},"color":{"field":"m","type":"nominal"}}}]},
{"width":81,"height":83,"title":"MRPC (3.67k)","data":{"name":"p"},"transform":[{"filter":"datum.p=='MA'"}],"encoding":{"x":{"field":"x","type":"quantitative","scale":{"domain":[0,11000],"nice":false},"axis":{"values":[0,10000],"labels":false,"title":null}}},"layer":[
{"mark":{"type":"errorband","clip":true},"encoding":{"y":{"field":"y","type":"quantitative","title":null},"yError":{"field":"e"},"color":{"field":"m","type":"nominal"}}},
{"data":{"name":"r"},"transform":[{"filter":"datum.d=='M'"}],"mark":{"type":"rule","color":"#8f8f8f","strokeDash":[6,3],"strokeWidth":1.8},"encoding":{}},
{"mark":{"type":"line","clip":true},"encoding":{"y":{"field":"y","type":"quantitative","scale":{"domain":[75,95.1],"nice":false,"zero":false},"axis":{"values":[80,90],"title":null}},"color":{"field":"m","type":"nominal"}}}]},
{"width":81,"height":83,"title":"WiC (5.43k)","data":{"name":"p"},"transform":[{"filter":"datum.p=='IA'"}],"encoding":{"x":{"field":"x","type":"quantitative","scale":{"domain":[0,11000],"nice":false},"axis":{"values":[0,10000],"labels":false,"title":null}}},"layer":[
{"mark":{"type":"errorband","clip":true},"encoding":{"y":{"field":"y","type":"quantitative","title":null},"yError":{"field":"e"},"color":{"field":"m","type":"nominal"}}},
{"data":{"name":"r"},"transform":[{"filter":"datum.d=='I'"}],"mark":{"type":"rule","color":"#8f8f8f","strokeDash":[6,3],"strokeWidth":1.8},"encoding":{}},
{"mark":{"type":"line","clip":true},"encoding":{"y":{"field":"y","type":"quantitative","scale":{"domain":[55,75.1],"nice":false,"zero":false},"axis":{"values":[60,70],"title":null}},"color":{"field":"m","type":"nominal"}}}]},
{"width":81,"height":83,"title":"CoLA (8.55k)","data":{"name":"p"},"transform":[{"filter":"datum.p=='CA'"}],"encoding":{"x":{"field":"x","type":"quantitative","scale":{"domain":[0,11000],"nice":false},"axis":{"values":[0,10000],"labels":false,"title":null}}},"layer":[
{"mark":{"type":"errorband","clip":true},"encoding":{"y":{"field":"y","type":"quantitative","title":null},"yError":{"field":"e"},"color":{"field":"m","type":"nominal"}}},
{"data":{"name":"r"},"transform":[{"filter":"datum.d=='C'"}],"mark":{"type":"rule","color":"#8f8f8f","strokeDash":[6,3],"strokeWidth":1.8},"encoding":{}},
{"mark":{"type":"line","clip":true},"encoding":{"y":{"field":"y","type":"quantitative","scale":{"domain":[65,85.1],"nice":false,"zero":false},"axis":{"values":[70,80],"title":null}},"color":{"field":"m","type":"nominal"}}}]},
{"width":81,"height":83,"title":"BoolQ (9.43k)","data":{"name":"p"},"transform":[{"filter":"datum.p=='BA'"}],"encoding":{"x":{"field":"x","type":"quantitative","scale":{"domain":[0,11000],"nice":false},"axis":{"values":[0,10000],"labels":false,"title":null}}},"layer":[
{"mark":{"type":"errorband","clip":true},"encoding":{"y":{"field":"y","type":"quantitative","title":null},"yError":{"field":"e"},"color":{"field":"m","type":"nominal"}}},
{"data":{"name":"r"},"transform":[{"filter":"datum.d=='B'"}],"mark":{"type":"rule","color":"#8f8f8f","strokeDash":[6,3],"strokeWidth":1.8},"encoding":{}},
{"mark":{"type":"line","clip":true},"encoding":{"y":{"field":"y","type":"quantitative","scale":{"domain":[60,80],"nice":false,"zero":false},"axis":{"values":[60,70,80],"title":null}},"color":{"field":"m","type":"nominal"}}}]},

{"width":81,"height":82,"data":{"name":"p"},"transform":[{"filter":"datum.p=='WE'"}],"encoding":{"x":{"field":"x","type":"quantitative","scale":{"domain":[0,11000],"nice":false},"axis":{"values":[0,10000],"labels":false,"title":null}}},"layer":[
{"mark":{"type":"errorband","clip":true},"encoding":{"y":{"field":"y","type":"quantitative","title":"ECE (%) ↓"},"yError":{"field":"e"},"color":{"field":"m","type":"nominal"}}},
{"data":{"name":"r"},"transform":[{"filter":"datum.d=='W'"}],"mark":{"type":"rule","color":"#8f8f8f","strokeDash":[6,3],"strokeWidth":1.8},"encoding":{}},
{"mark":{"type":"line","clip":true},"encoding":{"y":{"field":"y","type":"quantitative","title":"ECE (%) ↓","scale":{"domain":[-1.3,77.2],"nice":false,"zero":false},"axis":{"values":[0,50]}},"color":{"field":"m","type":"nominal"}}}]},
{"width":81,"height":82,"data":{"name":"p"},"transform":[{"filter":"datum.p=='RE'"}],"encoding":{"x":{"field":"x","type":"quantitative","scale":{"domain":[0,11000],"nice":false},"axis":{"values":[0,10000],"labels":false,"title":null}}},"layer":[
{"mark":{"type":"errorband","clip":true},"encoding":{"y":{"field":"y","type":"quantitative","title":null},"yError":{"field":"e"},"color":{"field":"m","type":"nominal"}}},
{"data":{"name":"r"},"transform":[{"filter":"datum.d=='R'"}],"mark":{"type":"rule","color":"#8f8f8f","strokeDash":[6,3],"strokeWidth":1.8},"encoding":{}},
{"mark":{"type":"line","clip":true},"encoding":{"y":{"field":"y","type":"quantitative","scale":{"domain":[0,24.6],"nice":false,"zero":false},"axis":{"values":[0,10,20],"title":null}},"color":{"field":"m","type":"nominal"}}}]},
{"width":81,"height":82,"data":{"name":"p"},"transform":[{"filter":"datum.p=='ME'"}],"encoding":{"x":{"field":"x","type":"quantitative","scale":{"domain":[0,11000],"nice":false},"axis":{"values":[0,10000],"labels":false,"title":null}}},"layer":[
{"mark":{"type":"errorband","clip":true},"encoding":{"y":{"field":"y","type":"quantitative","title":null},"yError":{"field":"e"},"color":{"field":"m","type":"nominal"}}},
{"data":{"name":"r"},"transform":[{"filter":"datum.d=='M'"}],"mark":{"type":"rule","color":"#8f8f8f","strokeDash":[6,3],"strokeWidth":1.8},"encoding":{}},
{"mark":{"type":"line","clip":true},"encoding":{"y":{"field":"y","type":"quantitative","scale":{"domain":[0.3,24.8],"nice":false,"zero":false},"axis":{"values":[10,20],"title":null}},"color":{"field":"m","type":"nominal"}}}]},
{"width":81,"height":82,"data":{"name":"p"},"transform":[{"filter":"datum.p=='IE'"}],"encoding":{"x":{"field":"x","type":"quantitative","scale":{"domain":[0,11000],"nice":false},"axis":{"values":[0,10000],"labels":false,"title":null}}},"layer":[
{"mark":{"type":"errorband","clip":true},"encoding":{"y":{"field":"y","type":"quantitative","title":null},"yError":{"field":"e"},"color":{"field":"m","type":"nominal"}}},
{"data":{"name":"r"},"transform":[{"filter":"datum.d=='I'"}],"mark":{"type":"rule","color":"#8f8f8f","strokeDash":[6,3],"strokeWidth":1.8},"encoding":{}},
{"mark":{"type":"line","clip":true},"encoding":{"y":{"field":"y","type":"quantitative","scale":{"domain":[0,24.8],"nice":false,"zero":false},"axis":{"values":[0,10,20],"title":null}},"color":{"field":"m","type":"nominal"}}}]},
{"width":81,"height":82,"data":{"name":"p"},"transform":[{"filter":"datum.p=='CE'"}],"encoding":{"x":{"field":"x","type":"quantitative","scale":{"domain":[0,11000],"nice":false},"axis":{"values":[0,10000],"labels":false,"title":null}}},"layer":[
{"mark":{"type":"errorband","clip":true},"encoding":{"y":{"field":"y","type":"quantitative","title":null},"yError":{"field":"e"},"color":{"field":"m","type":"nominal"}}},
{"data":{"name":"r"},"transform":[{"filter":"datum.d=='C'"}],"mark":{"type":"rule","color":"#8f8f8f","strokeDash":[6,3],"strokeWidth":1.8},"encoding":{}},
{"mark":{"type":"line","clip":true},"encoding":{"y":{"field":"y","type":"quantitative","scale":{"domain":[0,26.6],"nice":false,"zero":false},"axis":{"values":[0,10,20],"title":null}},"color":{"field":"m","type":"nominal"}}}]},
{"width":81,"height":82,"data":{"name":"p"},"transform":[{"filter":"datum.p=='BE'"}],"encoding":{"x":{"field":"x","type":"quantitative","scale":{"domain":[0,11000],"nice":false},"axis":{"values":[0,10000],"labels":false,"title":null}}},"layer":[
{"mark":{"type":"errorband","clip":true},"encoding":{"y":{"field":"y","type":"quantitative","title":null},"yError":{"field":"e"},"color":{"field":"m","type":"nominal"}}},
{"data":{"name":"r"},"transform":[{"filter":"datum.d=='B'"}],"mark":{"type":"rule","color":"#8f8f8f","strokeDash":[6,3],"strokeWidth":1.8},"encoding":{}},
{"mark":{"type":"line","clip":true},"encoding":{"y":{"field":"y","type":"quantitative","scale":{"domain":[0.3,18.3],"nice":false,"zero":false},"axis":{"values":[5,10,15],"title":null}},"color":{"field":"m","type":"nominal"}}}]},

{"width":81,"height":83,"data":{"name":"p"},"transform":[{"filter":"datum.p=='WN'"}],"encoding":{"x":{"field":"x","type":"quantitative","scale":{"domain":[0,11000],"nice":false},"axis":{"values":[0,10000],"format":"d","title":"training steps"}}},"layer":[
{"mark":{"type":"errorband","clip":true},"encoding":{"y":{"field":"y","type":"quantitative","title":"NLL ↓"},"yError":{"field":"e"},"color":{"field":"m","type":"nominal"}}},
{"data":{"name":"r"},"transform":[{"filter":"datum.d=='W'"}],"mark":{"type":"rule","color":"#8f8f8f","strokeDash":[6,3],"strokeWidth":1.8},"encoding":{}},
{"mark":{"type":"line","clip":true},"encoding":{"y":{"field":"y","type":"quantitative","title":"NLL ↓","scale":{"domain":[0.5,4.54],"nice":false,"zero":false},"axis":{"values":[2,4]}},"color":{"field":"m","type":"nominal"}}}]},
{"width":81,"height":83,"data":{"name":"p"},"transform":[{"filter":"datum.p=='RN'"}],"encoding":{"x":{"field":"x","type":"quantitative","scale":{"domain":[0,11000],"nice":false},"axis":{"values":[0,10000],"format":"d","title":"training steps"}}},"layer":[
{"mark":{"type":"errorband","clip":true},"encoding":{"y":{"field":"y","type":"quantitative","title":null},"yError":{"field":"e"},"color":{"field":"m","type":"nominal"}}},
{"data":{"name":"r"},"transform":[{"filter":"datum.d=='R'"}],"mark":{"type":"rule","color":"#8f8f8f","strokeDash":[6,3],"strokeWidth":1.8},"encoding":{}},
{"mark":{"type":"line","clip":true},"encoding":{"y":{"field":"y","type":"quantitative","scale":{"domain":[0.493,1.294],"nice":false,"zero":false},"axis":{"values":[0.5,1.0],"format":".1f","title":null}},"color":{"field":"m","type":"nominal"}}}]},
{"width":81,"height":83,"data":{"name":"p"},"transform":[{"filter":"datum.p=='MN'"}],"encoding":{"x":{"field":"x","type":"quantitative","scale":{"domain":[0,11000],"nice":false},"axis":{"values":[0,10000],"format":"d","title":"training steps"}}},"layer":[
{"mark":{"type":"errorband","clip":true},"encoding":{"y":{"field":"y","type":"quantitative","title":null},"yError":{"field":"e"},"color":{"field":"m","type":"nominal"}}},
{"data":{"name":"r"},"transform":[{"filter":"datum.d=='M'"}],"mark":{"type":"rule","color":"#8f8f8f","strokeDash":[6,3],"strokeWidth":1.8},"encoding":{}},
{"mark":{"type":"line","clip":true},"encoding":{"y":{"field":"y","type":"quantitative","scale":{"domain":[0.263,0.749],"nice":false,"zero":false},"axis":{"values":[0.4,0.6],"format":".1f","title":null}},"color":{"field":"m","type":"nominal"}}}]},
{"width":81,"height":83,"data":{"name":"p"},"transform":[{"filter":"datum.p=='IN'"}],"encoding":{"x":{"field":"x","type":"quantitative","scale":{"domain":[0,11000],"nice":false},"axis":{"values":[0,10000],"format":"d","title":"training steps"}}},"layer":[
{"mark":{"type":"errorband","clip":true},"encoding":{"y":{"field":"y","type":"quantitative","title":null},"yError":{"field":"e"},"color":{"field":"m","type":"nominal"}}},
{"data":{"name":"r"},"transform":[{"filter":"datum.d=='I'"}],"mark":{"type":"rule","color":"#8f8f8f","strokeDash":[6,3],"strokeWidth":1.8},"encoding":{}},
{"mark":{"type":"line","clip":true},"encoding":{"y":{"field":"y","type":"quantitative","scale":{"domain":[0.6,0.952],"nice":false,"zero":false},"axis":{"values":[0.6,0.8],"format":".1f","title":null}},"color":{"field":"m","type":"nominal"}}}]},
{"width":81,"height":83,"data":{"name":"p"},"transform":[{"filter":"datum.p=='CN'"}],"encoding":{"x":{"field":"x","type":"quantitative","scale":{"domain":[0,11000],"nice":false},"axis":{"values":[0,10000],"format":"d","title":"training steps"}}},"layer":[
{"mark":{"type":"errorband","clip":true},"encoding":{"y":{"field":"y","type":"quantitative","title":null},"yError":{"field":"e"},"color":{"field":"m","type":"nominal"}}},
{"data":{"name":"r"},"transform":[{"filter":"datum.d=='C'"}],"mark":{"type":"rule","color":"#8f8f8f","strokeDash":[6,3],"strokeWidth":1.8},"encoding":{}},
{"mark":{"type":"line","clip":true},"encoding":{"y":{"field":"y","type":"quantitative","scale":{"domain":[0.362,0.531],"nice":false,"zero":false},"axis":{"values":[0.4,0.5],"format":".1f","title":null}},"color":{"field":"m","type":"nominal"}}}]},
{"width":81,"height":83,"data":{"name":"p"},"transform":[{"filter":"datum.p=='BN'"}],"encoding":{"x":{"field":"x","type":"quantitative","scale":{"domain":[0,11000],"nice":false},"axis":{"values":[0,10000],"format":"d","title":"training steps"}}},"layer":[
{"mark":{"type":"errorband","clip":true},"encoding":{"y":{"field":"y","type":"quantitative","title":null},"yError":{"field":"e"},"color":{"field":"m","type":"nominal"}}},
{"data":{"name":"r"},"transform":[{"filter":"datum.d=='B'"}],"mark":{"type":"rule","color":"#8f8f8f","strokeDash":[6,3],"strokeWidth":1.8},"encoding":{}},
{"mark":{"type":"line","clip":true},"encoding":{"y":{"field":"y","type":"quantitative","scale":{"domain":[0.4513,0.61],"nice":false,"zero":false},"axis":{"values":[0.5,0.6],"format":".1f","title":null}},"color":{"field":"m","type":"nominal"}}}]}
]
}
